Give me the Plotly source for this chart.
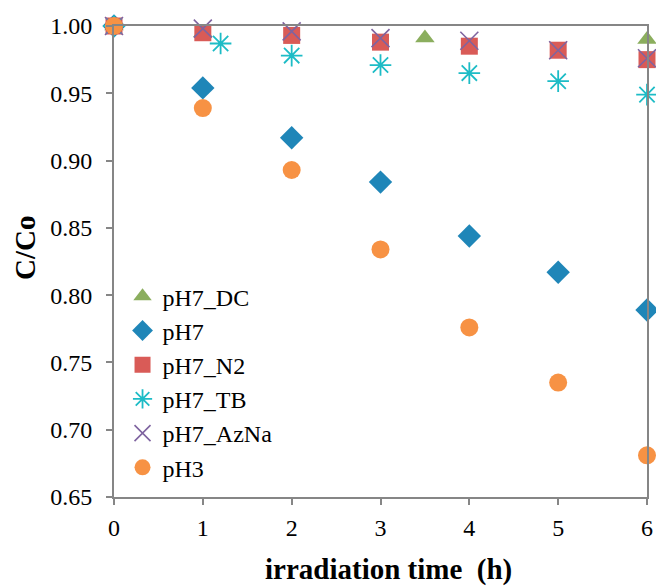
import plotly.graph_objects as go

# Data
x_dc = [0, 1, 3.5, 6]
y_dc = [1.0, 0.995, 0.991, 0.990]
x_std = [0, 1, 2, 3, 4, 5, 6]
y_ph7 = [1.0, 0.954, 0.917, 0.884, 0.844, 0.817, 0.789]
y_n2 = [1.0, 0.995, 0.993, 0.988, 0.985, 0.982, 0.975]
x_tb = [0, 1.2, 2, 3, 4, 5, 6]
y_tb = [1.0, 0.987, 0.978, 0.971, 0.965, 0.959, 0.949]
y_azna = [1.0, 0.998, 0.996, 0.991, 0.989, 0.982, 0.976]
y_ph3 = [1.0, 0.939, 0.893, 0.834, 0.776, 0.735, 0.681]

x_ticks = [0, 1, 2, 3, 4, 5, 6]
y_ticks = [0.65, 0.70, 0.75, 0.80, 0.85, 0.90, 0.95, 1.00]

FONT = "Liberation Serif, Times New Roman, serif"
AX = "#868686"

W, H = 656, 586
ML, MR, MT, MB = 114, 9, 26, 89

fig = go.Figure()
fig.add_trace(go.Scatter(x=x_dc, y=y_dc, mode="markers", name="pH7_DC",
                         marker=dict(symbol="triangle-up", size=17, color="#8BAE5E")))
fig.add_trace(go.Scatter(x=x_std, y=y_ph7, mode="markers", name="pH7",
                         marker=dict(symbol="diamond", size=18, color="#1F86B8")))
fig.add_trace(go.Scatter(x=x_std, y=y_n2, mode="markers", name="pH7_N2",
                         marker=dict(symbol="square", size=17, color="#D95B57")))
fig.add_trace(go.Scatter(x=x_tb, y=y_tb, mode="markers", name="pH7_TB",
                         marker=dict(symbol="asterisk-open", size=18, color="#1DBCC6",
                                     line=dict(color="#1DBCC6", width=1.8))))
fig.add_trace(go.Scatter(x=x_std, y=y_azna, mode="markers", name="pH7_AzNa",
                         marker=dict(symbol="x-thin-open", size=18, color="#7F64A0",
                                     line=dict(color="#7F64A0", width=1.6))))
fig.add_trace(go.Scatter(x=x_std, y=y_ph3, mode="markers", name="pH3",
                         marker=dict(symbol="circle", size=18, color="#F79244")))

fig.update_traces(cliponaxis=False)

pw = W - ML - MR
ph = H - MT - MB


def px_x(p):
    return (p - ML) / pw


def px_y(p):
    return (H - MB - p) / ph


fig.update_layout(
    width=W, height=H,
    margin=dict(l=ML, r=MR, t=MT, b=MB, autoexpand=False),
    paper_bgcolor="white", plot_bgcolor="white",
    font=dict(family=FONT, size=24, color="black"),
    showlegend=True,
    legend=dict(x=0.016, y=0.473, xanchor="left", yanchor="top",
                bgcolor="rgba(0,0,0,0)", font=dict(family=FONT, size=24),
                itemsizing="trace", tracegroupgap=0, itemwidth=30),
    xaxis=dict(range=[0, 6], tickvals=x_ticks, ticktext=[str(v) for v in x_ticks],
               showgrid=False, zeroline=False, showline=True, linecolor=AX, linewidth=2,
               mirror=True, ticks="outside", ticklen=6, tickcolor=AX, tickwidth=2,
               automargin=False, ticklabelstandoff=2,
               tickfont=dict(family=FONT, size=24)),
    yaxis=dict(range=[0.65, 1.0], tickvals=y_ticks, ticktext=[f"{v:.2f}" for v in y_ticks],
               showgrid=False, zeroline=False, showline=True, linecolor=AX, linewidth=2,
               mirror=True, ticks="outside", ticklen=6, tickcolor=AX, tickwidth=2,
               automargin=False, ticklabelstandoff=9,
               tickfont=dict(family=FONT, size=24)),
    annotations=[
        dict(text="<b>irradiation time  (h)</b>", xref="paper", yref="paper",
             x=px_x(388), y=px_y(569), xanchor="center", yanchor="middle",
             showarrow=False, font=dict(family=FONT, size=29)),
        dict(text="<b>C/Co</b>", xref="paper", yref="paper", textangle=-90,
             x=px_x(25), y=px_y(248), xanchor="center", yanchor="middle",
             showarrow=False, font=dict(family=FONT, size=29)),
    ],
)

fig.write_html("out.html", config={"displayModeBar": False},
               post_script="document.body.style.margin='0';document.body.style.padding='0';")
